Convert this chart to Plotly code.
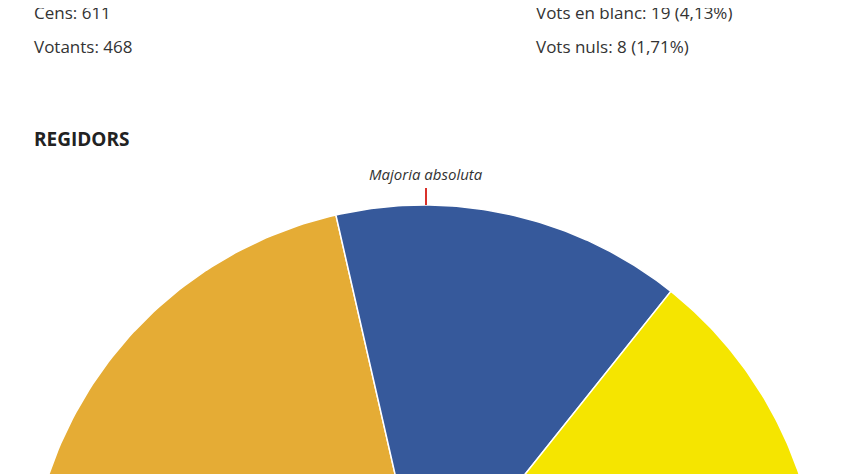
import numpy as np
import plotly.graph_objects as go

parties = ["A", "B", "C"]
seats = [3, 2, 2]
colors = ["#E5AC35", "#36599B", "#F5E500"]
info_left = ["Cens: 611", "Votants: 468"]
info_right = ["Vots en blanc: 19 (4,13%)", "Vots nuls: 8 (1,71%)"]

cx, cy, r = 425, 601, 396
total = sum(seats)
fig = go.Figure()
start = np.pi
for p, s, c in zip(parties, seats, colors):
    end = start - np.pi * s / total
    t = np.linspace(start, end, 80)
    xs = np.concatenate([[cx], cx + r * np.cos(t), [cx]])
    ys = np.concatenate([[cy], cy - r * np.sin(t), [cy]])
    fig.add_trace(go.Scatter(x=xs, y=ys, fill="toself", fillcolor=c, mode="lines",
                             line=dict(color="white", width=1.5), name=p, hoverinfo="name"))
    start = end

font = dict(family="Open Sans, sans-serif", size=17, color="#333333")
for i, txt in enumerate(info_left):
    fig.add_annotation(x=33, y=12 + 34 * i, text=txt, showarrow=False, xanchor="left", yanchor="middle", font=font)
for i, txt in enumerate(info_right):
    fig.add_annotation(x=535, y=12 + 34 * i, text=txt, showarrow=False, xanchor="left", yanchor="middle", font=font)
fig.add_annotation(x=33, y=139, text="<b>REGIDORS</b>", showarrow=False, xanchor="left", yanchor="middle",
                   font=dict(family="Open Sans, sans-serif", size=19, color="#222222"))
fig.add_annotation(x=427, y=174, text="<i>Majoria absoluta</i>", showarrow=False, xanchor="center", yanchor="middle",
                   font=dict(family="Open Sans, sans-serif", size=15, color="#333333"))
fig.add_shape(type="line", x0=427, x1=427, y0=188, y1=205, line=dict(color="#D9312B", width=2))

fig.update_layout(width=844, height=474, margin=dict(l=0, r=0, t=0, b=0), showlegend=False,
                  paper_bgcolor="white", plot_bgcolor="white",
                  xaxis=dict(range=[9, 853], visible=False, fixedrange=True),
                  yaxis=dict(range=[482, 8], visible=False, fixedrange=True))
fig.write_html("out.html")
